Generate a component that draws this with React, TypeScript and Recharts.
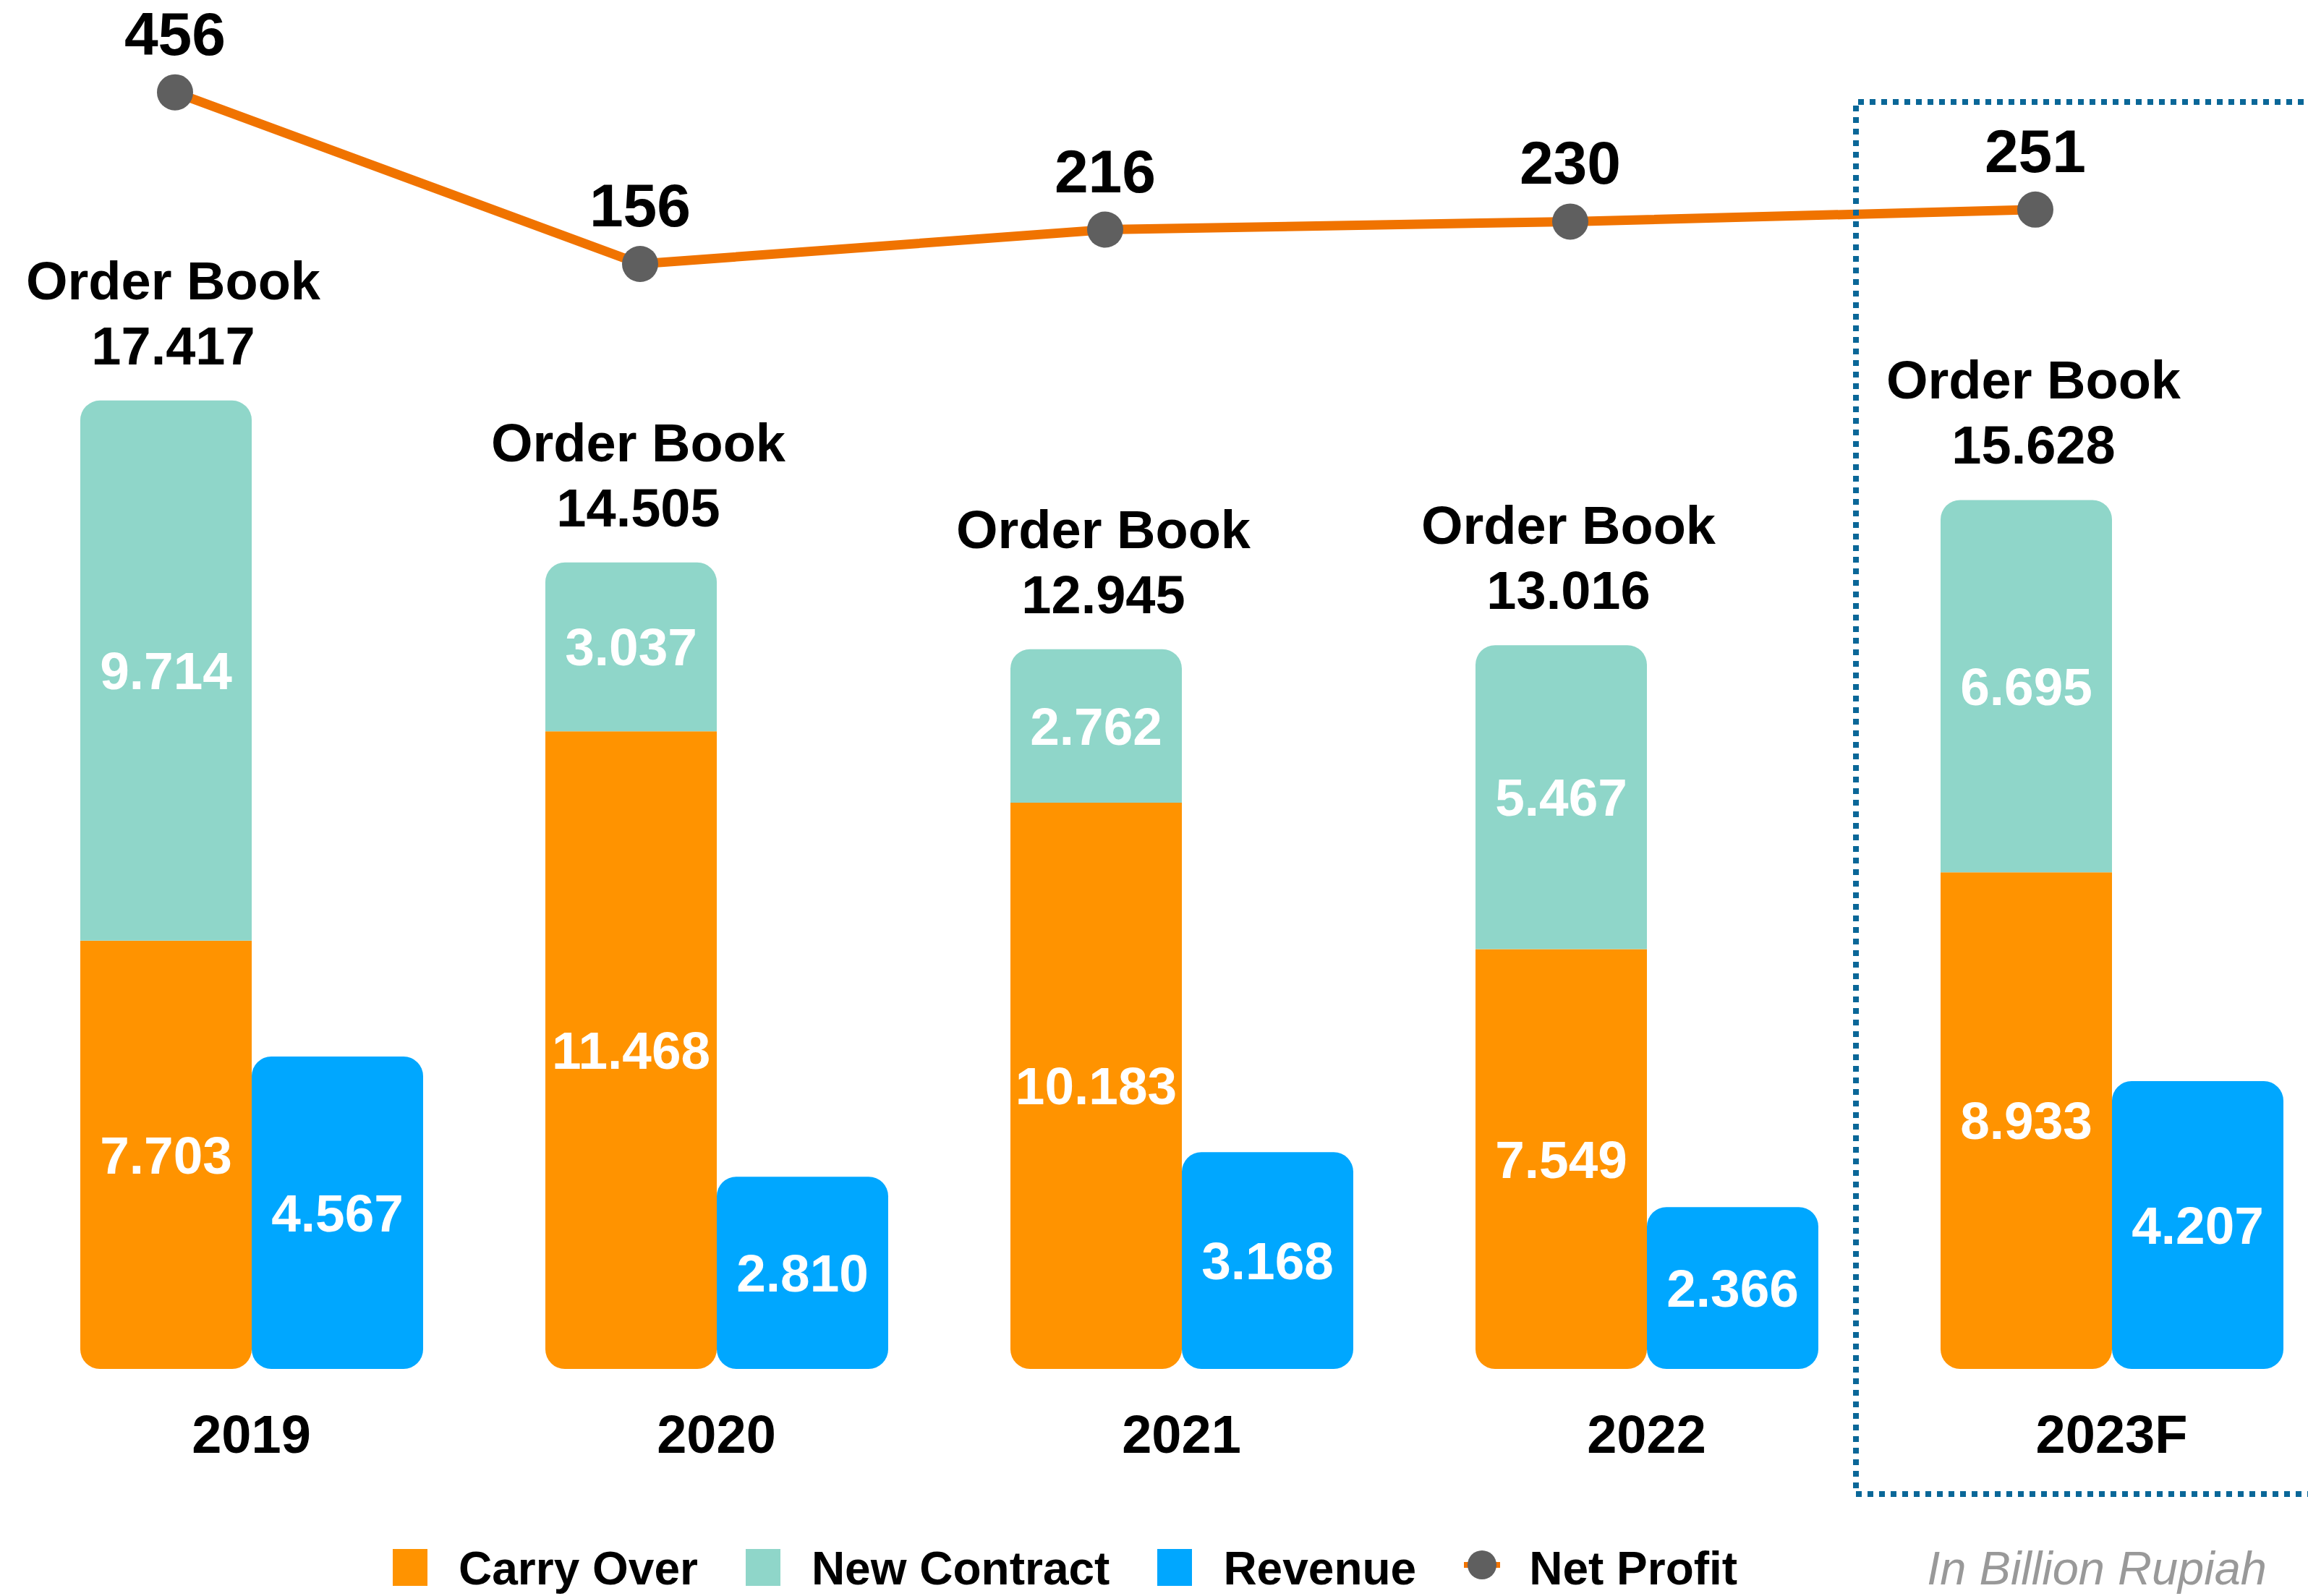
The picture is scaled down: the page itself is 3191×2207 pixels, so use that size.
import React from 'react';
import { ComposedChart, Bar, Line, XAxis, YAxis, LabelList, Legend } from 'recharts';

// ---- data ----
const years = ['2019', '2020', '2021', '2022', '2023F'];
const carryOver = [7703, 11468, 10183, 7549, 8933];
const newContract = [9714, 3037, 2762, 5467, 6695];
const orderBook = [17417, 14505, 12945, 13016, 15628];
const revenue = [4567, 2810, 3168, 2366, 4207];
const netProfit = [456, 156, 216, 230, 251];

const legendLabels = ['Carry Over', 'New Contract', 'Revenue', 'Net Profit'];
const unitNote = 'In Billion Rupiah';
const orderBookTitle = 'Order Book';

// ---- styles ----
const FONT = '"Liberation Sans", Arial, Helvetica, sans-serif';
const C_CARRY = '#FF9300';
const C_NEW = '#8FD6C9';
const C_REV = '#00A7FF';
const C_LINE = '#F07300';
const C_DOT = '#5F5F5F';
const C_BOX = '#0A6798';

const W = 3191;
const H = 2207;

const data = years.map((year, i) => ({
  year,
  idx: i,
  carry: carryOver[i],
  newc: newContract[i],
  ob: orderBook[i],
  revenue: revenue[i],
  profit: netProfit[i],
}));

const fmt = (n: number) => String(n).replace(/\B(?=(\d{3})+(?!\d))/g, '.');

const YearTick = (props: any) => {
  const { x, y, payload } = props;
  return (
    <text x={x} y={y + 116} textAnchor="middle" fontSize={74} fontWeight="bold" fill="#000" fontFamily={FONT}>
      {payload.value}
    </text>
  );
};

const OrderBookLabel = (props: any) => {
  const { x, y, width, value } = props;
  const cx = x + width / 2 + 10;
  return (
    <g>
      <text x={cx} y={y - 140} textAnchor="middle" fontSize={74} fontWeight="bold" fill="#000" fontFamily={FONT}>
        {orderBookTitle}
      </text>
      <text x={cx} y={y - 50} textAnchor="middle" fontSize={74} fontWeight="bold" fill="#000" fontFamily={FONT}>
        {fmt(value)}
      </text>
    </g>
  );
};

const ProfitLabel = (props: any) => {
  const { x, y, value } = props;
  return (
    <text x={x} y={y - 52} textAnchor="middle" fontSize={84} fontWeight="bold" fill="#000" fontFamily={FONT}>
      {value}
    </text>
  );
};

const legendColors = [C_CARRY, C_NEW, C_REV];

const LegendContent = () => (
  <div style={{ position: 'relative', width: W, height: 90, fontFamily: FONT }}>
    <div
      style={{
        position: 'absolute',
        left: 543,
        top: 0,
        height: 84,
        display: 'flex',
        alignItems: 'flex-end',
        fontSize: 64,
        fontWeight: 'bold',
        color: '#000',
        whiteSpace: 'nowrap',
        lineHeight: 1,
      }}
    >
      {legendLabels.map((label, i) => (
        <div key={label} style={{ display: 'flex', alignItems: 'flex-end', marginRight: 66 }}>
          {i < 3 ? (
            <span
              style={{
                display: 'inline-block',
                width: 48,
                height: 51,
                background: legendColors[i],
                marginRight: 43,
                marginBottom: 8,
              }}
            />
          ) : (
            <svg width={50} height={44} style={{ marginRight: 40, marginBottom: 15 }}>
              <line x1={0} y1={22} x2={50} y2={22} stroke={C_LINE} strokeWidth={8} />
              <circle cx={25} cy={22} r={20} fill={C_DOT} />
            </svg>
          )}
          <span>{label}</span>
        </div>
      ))}
    </div>
    <div
      style={{
        position: 'absolute',
        right: 57,
        top: 0,
        height: 84,
        display: 'flex',
        alignItems: 'flex-end',
        fontSize: 65,
        fontStyle: 'italic',
        color: '#999999',
        lineHeight: 1,
        whiteSpace: 'nowrap',
      }}
    >
      {unitNote}
    </div>
  </div>
);

export default function App() {
  return (
    <div style={{ position: 'relative', width: W, height: H, overflow: 'hidden', fontFamily: FONT, background: '#fff' }}>
      <style>{`body{margin:0;}`}</style>
      <ComposedChart
        width={W}
        height={H}
        data={data}
        margin={{ top: 0, right: -50, left: 26, bottom: 0 }}
        barGap={0}
        barSize={237}
      >
        <XAxis
          xAxisId="cat"
          dataKey="year"
          height={224}
          axisLine={false}
          tickLine={false}
          tickSize={0}
          tickMargin={0}
          interval={0}
          tick={<YearTick />}
        />
        <XAxis xAxisId="np" dataKey="idx" type="number" domain={[-0.3359, 4.6641]} allowDataOverflow hide />
        <YAxis yAxisId="ob" type="number" domain={[0, 24620]} allowDataOverflow hide />
        <YAxis yAxisId="rev" type="number" domain={[0, 20011]} allowDataOverflow hide />
        <YAxis yAxisId="np" type="number" domain={[-1775.7, 617.4]} allowDataOverflow hide />

        <Bar
          xAxisId="cat"
          yAxisId="ob"
          dataKey="carry"
          name={legendLabels[0]}
          stackId="orderbook"
          fill={C_CARRY}
          radius={[0, 0, 27, 27]}
          isAnimationActive={false}
        >
          <LabelList dataKey="carry" position="center" fill="#fff" fontSize={73} fontWeight="bold" formatter={(v: any) => fmt(v)} />
        </Bar>
        <Bar
          xAxisId="cat"
          yAxisId="ob"
          dataKey="newc"
          name={legendLabels[1]}
          stackId="orderbook"
          fill={C_NEW}
          radius={[27, 27, 0, 0]}
          isAnimationActive={false}
        >
          <LabelList dataKey="newc" position="center" fill="#fff" fontSize={73} fontWeight="bold" formatter={(v: any) => fmt(v)} />
          <LabelList dataKey="ob" content={<OrderBookLabel />} />
        </Bar>
        <Bar
          xAxisId="cat"
          yAxisId="rev"
          dataKey="revenue"
          name={legendLabels[2]}
          fill={C_REV}
          radius={[27, 27, 27, 27]}
          isAnimationActive={false}
        >
          <LabelList dataKey="revenue" position="center" fill="#fff" fontSize={73} fontWeight="bold" formatter={(v: any) => fmt(v)} />
        </Bar>
        <Line
          xAxisId="np"
          yAxisId="np"
          dataKey="profit"
          name={legendLabels[3]}
          stroke={C_LINE}
          strokeWidth={13}
          dot={{ r: 25, fill: C_DOT, stroke: 'none', strokeWidth: 0 }}
          activeDot={false}
          isAnimationActive={false}
        >
          <LabelList dataKey="profit" content={<ProfitLabel />} />
        </Line>
        <Legend
          verticalAlign="bottom"
          align="left"
          height={90}
          width={W}
          wrapperStyle={{ left: 0, bottom: 0 }}
          content={<LegendContent />}
        />
      </ComposedChart>
      <svg
        width={W}
        height={H}
        style={{ position: 'absolute', left: 0, top: 0, pointerEvents: 'none' }}
      >
        <path
          d={`M ${W + 10} 141 H 2566 V 2066 H ${W + 10}`}
          fill="none"
          stroke={C_BOX}
          strokeWidth={8}
          strokeDasharray="8 8"
        />
      </svg>
    </div>
  );
}
